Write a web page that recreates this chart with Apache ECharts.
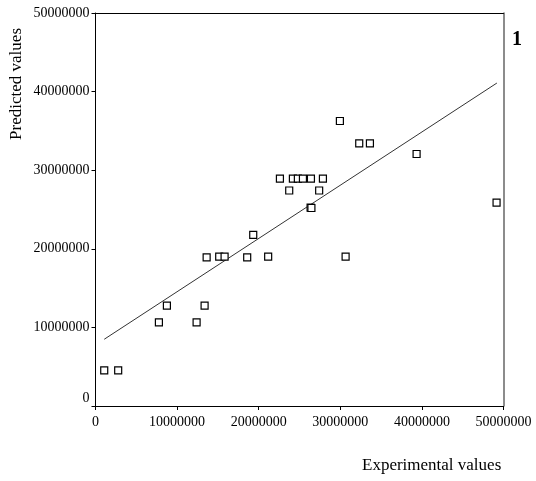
<!DOCTYPE html>
<html>
<head>
<meta charset="utf-8">
<script src="https://cdn.jsdelivr.net/npm/echarts@6/dist/echarts.min.js"></script>
<style>
  html, body { margin: 0; padding: 0; background: #fff; }
  #chart { width: 536px; height: 481px; }
</style>
</head>
<body>
<div id="chart"></div>
<script>
const expX = [1070000, 2780000, 7770000, 8750000, 12390000, 13370000, 13620000, 15160000,
  15820000, 18590000, 19330000, 21160000, 22600000, 23740000, 24190000, 24800000,
  25420000, 26400000, 26360000, 26460000, 27410000, 27870000, 29950000, 30650000,
  32320000, 33630000, 39350000, 49150000];
const predY = [4540000, 4540000, 10650000, 12760000, 10650000, 12760000, 18920000, 19000000,
  19000000, 18920000, 21760000, 19000000, 28940000, 27420000, 28940000, 28940000,
  28940000, 28940000, 25230000, 25190000, 27420000, 28940000, 36260000, 19000000,
  33420000, 33420000, 32060000, 25870000];

// fitted line end points
const fitX = [1070000, 49190000];
const fitY = [8490000, 41090000];

const points = expX.map((x, i) => [x, predY[i]]);
const fitLine = fitX.map((x, i) => [x, fitY[i]]);

const font = "'Liberation Serif', 'DejaVu Serif', serif";

const chart = echarts.init(document.getElementById("chart"));
chart.setOption({
  animation: false,
  grid: { left: 95.5, right: 32.5, top: 13, bottom: 75 },
  xAxis: [
    {
      type: "value",
      min: 0,
      max: 50000000,
      interval: 10000000,
      splitLine: { show: false },
      axisLine: { onZero: false, lineStyle: { color: "#000", width: 1 } },
      axisTick: { length: 4, lineStyle: { color: "#000" } },
      axisLabel: { color: "#000", fontFamily: font, fontSize: 14, margin: 9, formatter: (v) => String(v) },
    },
    {
      type: "value",
      position: "top",
      min: 0,
      max: 50000000,
      axisLine: { show: true, onZero: false, lineStyle: { color: "#000", width: 1 } },
      axisTick: { show: false },
      axisLabel: { show: false },
      splitLine: { show: false },
    },
  ],
  yAxis: [
    {
      type: "value",
      min: 0,
      max: 50000000,
      interval: 10000000,
      splitLine: { show: false },
      axisLine: { show: true, onZero: false, lineStyle: { color: "#000", width: 1 } },
      axisTick: { show: true, length: 4, lineStyle: { color: "#000" } },
      axisLabel: {
        color: "#000",
        fontFamily: font,
        fontSize: 14,
        margin: 6,
        formatter: (v) => (v === 0 ? "{z|0}" : String(v)),
        rich: { z: { fontFamily: font, fontSize: 14, color: "#000", padding: [0, 0, 16, 0] } },
      },
    },
    {
      type: "value",
      position: "right",
      min: 0,
      max: 50000000,
      axisLine: { show: true, onZero: false, lineStyle: { color: "#666", width: 1.5 } },
      axisTick: { show: false },
      axisLabel: { show: false },
      splitLine: { show: false },
    },
  ],
  series: [
    {
      type: "line",
      data: fitLine,
      symbol: "none",
      lineStyle: { color: "#333", width: 1 },
      z: 1,
    },
    {
      type: "scatter",
      data: points,
      symbol: "rect",
      symbolSize: 7,
      itemStyle: { color: "#fff", borderColor: "#000", borderWidth: 1.2, opacity: 1 },
      z: 2,
    },
  ],
  graphic: [
    {
      type: "text",
      left: 8,
      top: 28,
      rotation: Math.PI / 2,
      style: { text: "Predicted values", fontFamily: font, fontSize: 17, fill: "#000" },
    },
    {
      type: "text",
      left: 362,
      top: 457,
      style: { text: "Experimental values", fontFamily: font, fontSize: 17, fill: "#000" },
    },
    {
      type: "text",
      left: 512,
      top: 30,
      style: { text: "1", fontFamily: font, fontSize: 20, fontWeight: "bold", fill: "#000" },
    },
  ],
});
</script>
</body>
</html>
